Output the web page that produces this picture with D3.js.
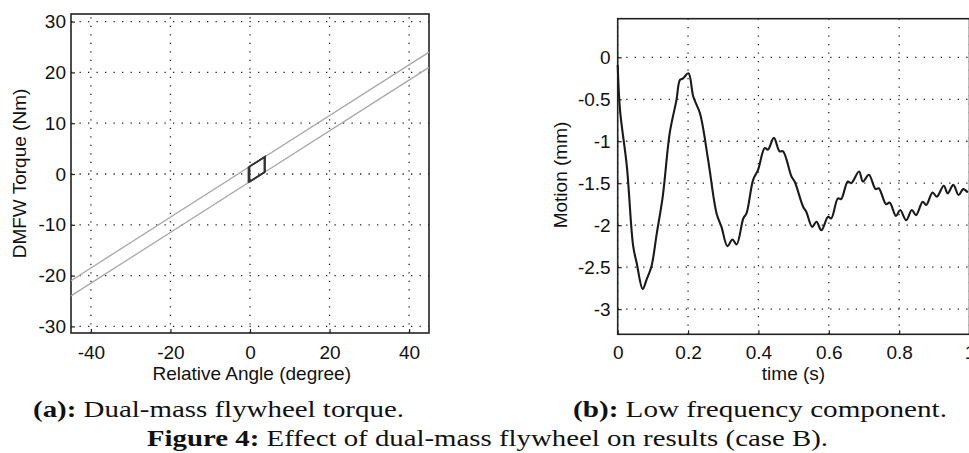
<!DOCTYPE html>
<html>
<head>
<meta charset="utf-8">
<script src="https://cdn.jsdelivr.net/npm/d3@7"></script>
<style>
  body { margin: 0; background: #fff; }
  svg { display: block; }
  .tick text { font-family: "Liberation Sans", Arial, sans-serif; font-size: 19px; fill: #111; }
</style>
</head>
<body>
<script>
// (a) dual-mass flywheel torque
const angleTicks = [-40, -20, 0, 20, 40];
const torqueTicks = [-30, -20, -10, 0, 10, 20, 30];
const lineAngle = [-45, 45];
const upperTorque = [-21, 24];
const lowerTorque = [-24, 21];
const loopAngleA = [-0.4, -0.4, 3.6, 3.6, -0.4];
const loopTorqueA = [-1.7, 1.3, 3.3, 0.3, -1.7];
const loopAngleB = [-0.1, -0.1, 3.8, 3.8, -0.1];
const loopTorqueB = [-1.5, 1.5, 3.45, 0.45, -1.5];

// (b) low frequency component
const timeTicks = [0, 0.2, 0.4, 0.6, 0.8, 1];
const motionTicks = [-3, -2.5, -2, -1.5, -1, -0.5, 0];
const time = [0, 0.0066, 0.026, 0.044, 0.054, 0.071, 0.082, 0.096, 0.111, 0.128, 0.148, 0.167, 0.177, 0.186, 0.201,
  0.215, 0.234, 0.257, 0.281, 0.295, 0.312, 0.326, 0.338, 0.357, 0.366, 0.385, 0.399, 0.418, 0.427, 0.444,
  0.460, 0.470, 0.494, 0.503, 0.527, 0.536, 0.553, 0.565, 0.579, 0.598, 0.607, 0.626, 0.635, 0.654, 0.664,
  0.686, 0.697, 0.714, 0.733, 0.742, 0.763, 0.773, 0.791, 0.803, 0.820, 0.836, 0.848, 0.867, 0.877, 0.895,
  0.907, 0.927, 0.938, 0.954, 0.969, 0.982, 0.995];
const motion = [-0.09, -0.63, -1.30, -2.25, -2.45, -2.76, -2.65, -2.49, -2.10, -1.66, -0.90, -0.51, -0.27, -0.25, -0.19,
  -0.47, -0.67, -1.22, -1.86, -2.02, -2.25, -2.17, -2.23, -1.92, -1.86, -1.46, -1.34, -1.08, -1.10, -0.96,
  -1.12, -1.12, -1.42, -1.48, -1.78, -1.84, -2.02, -1.96, -2.06, -1.90, -1.92, -1.68, -1.69, -1.48, -1.50,
  -1.36, -1.48, -1.40, -1.57, -1.56, -1.75, -1.73, -1.89, -1.82, -1.94, -1.82, -1.88, -1.72, -1.76, -1.61,
  -1.66, -1.53, -1.62, -1.52, -1.64, -1.57, -1.61];

const width = 969, height = 453;
const svg = d3.select("body").append("svg").attr("width", width).attr("height", height);

function drawFrame(x, y, xt, yt, xPad, yPad) {
  const [x0, x1] = x.range(), [y0, y1] = y.range();
  const g = svg.append("g");
  // dotted grid
  g.selectAll(".vg").data(xt).enter().append("line")
    .attr("x1", d => x(d)).attr("x2", d => x(d)).attr("y1", y0).attr("y2", y1)
    .attr("stroke", "#222").attr("stroke-width", 1.3).attr("stroke-dasharray", "1.3,7.2");
  g.selectAll(".hg").data(yt).enter().append("line")
    .attr("x1", x0).attr("x2", x1).attr("y1", d => y(d)).attr("y2", d => y(d))
    .attr("stroke", "#222").attr("stroke-width", 1.3).attr("stroke-dasharray", "1.3,7.2");

  const fmt = d => String(d);
  const ax = svg.append("g").attr("transform", `translate(0,${y0})`)
    .call(d3.axisBottom(x).tickValues(xt).tickFormat(fmt).tickSize(-4).tickPadding(xPad));
  const ay = svg.append("g").attr("transform", `translate(${x0},0)`)
    .call(d3.axisLeft(y).tickValues(yt).tickFormat(fmt).tickSize(-4).tickPadding(yPad));
  [ax, ay].forEach(a => {
    a.select(".domain").remove();
    a.selectAll(".tick line").attr("stroke", "#222").attr("stroke-width", 1.2);
  });
  svg.append("rect").attr("x", x0).attr("y", y1).attr("width", x1 - x0).attr("height", y0 - y1)
    .attr("fill", "none").attr("stroke", "#222").attr("stroke-width", 1.6);
}

function label(x, y, text, rotate) {
  svg.append("text")
    .attr("transform", `translate(${x},${y})` + (rotate ? " rotate(-90)" : ""))
    .attr("text-anchor", "middle").attr("dy", "0.35em")
    .attr("font-family", "Liberation Sans, Arial, sans-serif").attr("font-size", 19).attr("fill", "#111")
    .text(text);
}

// ---- left chart
const xa = d3.scaleLinear().domain([-45, 45]).range([71, 429]);
const ya = d3.scaleLinear().domain([-31.3, 31.5]).range([333, 14]);
drawFrame(xa, ya, angleTicks, torqueTicks, 13, 5);

const lineA = d3.line().x(d => xa(d[0])).y(d => ya(d[1]));
[upperTorque, lowerTorque].forEach(t => {
  svg.append("path").datum(d3.zip(lineAngle, t)).attr("d", lineA)
    .attr("fill", "none").attr("stroke", "#a8a8a8").attr("stroke-width", 1.3);
});
[[loopAngleA, loopTorqueA], [loopAngleB, loopTorqueB]].forEach(([a, t]) => {
  svg.append("path").datum(d3.zip(a, t)).attr("d", lineA)
    .attr("fill", "none").attr("stroke", "#333").attr("stroke-width", 1.6);
});
label(251.7, 373, "Relative Angle (degree)");
label(19, 173.5, "DMFW Torque (Nm)", true);

// ---- right chart
const xb = d3.scaleLinear().domain([0, 1]).range([617.7, 969.5]);
const yb = d3.scaleLinear().domain([-3.3, 0.46]).range([334.3, 18.7]);
drawFrame(xb, yb, timeTicks, motionTicks, 11.5, 7);

svg.append("path").datum(d3.zip(time, motion))
  .attr("d", d3.line().x(d => xb(d[0])).y(d => yb(d[1])).curve(d3.curveCatmullRom))
  .attr("fill", "none").attr("stroke", "#1a1a1a").attr("stroke-width", 2.1);
label(793.5, 373, "time (s)");
label(560.7, 175, "Motion (mm)", true);

// ---- captions
function caption(x, y, bold, rest, len) {
  const t = svg.append("text").attr("x", x).attr("y", y)
    .attr("font-family", "Liberation Serif, Times New Roman, serif").attr("font-size", 23.5).attr("fill", "#111")
    .attr("textLength", len).attr("lengthAdjust", "spacingAndGlyphs");
  t.append("tspan").attr("font-weight", "bold").text(bold);
  t.append("tspan").text(" " + rest);
}
caption(33, 417, "(a):", "Dual-mass flywheel torque.", 371);
caption(573, 417, "(b):", "Low frequency component.", 374);
caption(147, 446, "Figure 4:", "Effect of dual-mass flywheel on results (case B).", 681);
</script>
</body>
</html>
